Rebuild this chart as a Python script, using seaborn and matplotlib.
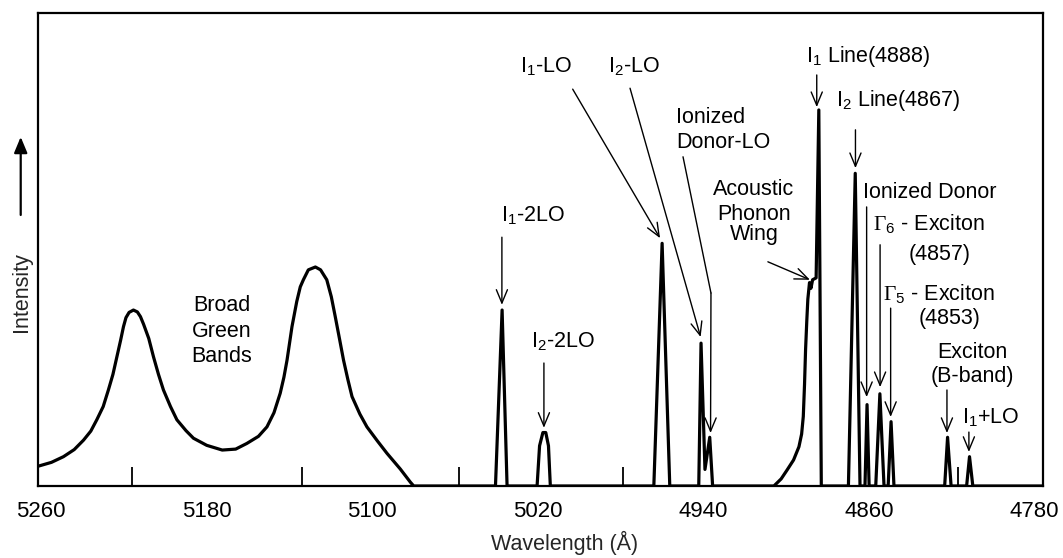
import pandas as pd
import matplotlib
matplotlib.use("Agg")
import matplotlib.pyplot as plt
import seaborn as sns

# ---------------------------------------------------------
# DATA (intensity in arbitrary units)
# ---------------------------------------------------------
# broad green bands
band_wl = [5261.3, 5255.0, 5249.2, 5244.0, 5239.5, 5236.0, 5233.1, 5230.0, 5227.5, 5225.3,
           5223.4, 5221.6, 5220.2, 5219.0, 5217.5, 5215.4, 5213.5, 5212.0, 5210.5, 5208.0,
           5205.7, 5203.3, 5200.9, 5197.5, 5194.4, 5190.0, 5186.4, 5180.0, 5172.5, 5166.0,
           5160.6, 5155.0, 5150.9, 5147.5, 5144.5, 5142.7, 5141.2, 5138.8, 5136.5, 5134.8,
           5133.3, 5130.9, 5127.5, 5125.0, 5122.0, 5119.8, 5117.9, 5115.8, 5113.9, 5111.8,
           5109.8, 5106.0, 5102.6, 5097.5, 5092.9, 5086.5, 5081.6, 5080.0]
band_int = [0.042, 0.050, 0.062, 0.077, 0.097, 0.116, 0.140, 0.168, 0.203, 0.236,
            0.273, 0.308, 0.337, 0.356, 0.367, 0.372, 0.368, 0.358, 0.342, 0.312,
            0.273, 0.236, 0.203, 0.168, 0.140, 0.117, 0.101, 0.086, 0.076, 0.078,
            0.090, 0.105, 0.125, 0.155, 0.196, 0.230, 0.266, 0.337, 0.390, 0.421,
            0.436, 0.457, 0.463, 0.457, 0.436, 0.400, 0.358, 0.310, 0.266, 0.225,
            0.189, 0.152, 0.125, 0.095, 0.069, 0.036, 0.008, 0.0]

# LO phonon replicas (I1-2LO, I2-2LO, I1-LO, I2-LO, ionized donor-LO)
lo_wl = [5040.5, 5037.3, 5034.9,
         5020.4, 5019.2, 5017.6, 5016.2, 5014.9, 5014.0,
         4964.0, 4960.0, 4956.3,
         4942.3, 4941.2, 4939.3, 4937.0, 4935.6]
lo_int = [0.0, 0.372, 0.0,
          0.0, 0.085, 0.113, 0.113, 0.085, 0.0,
          0.0, 0.513, 0.0,
          0.0, 0.302, 0.035, 0.103, 0.0]

# acoustic phonon wing, I1, I2, ionized donor, G6, G5, B-band, I1+LO
edge_wl = [4906.0, 4902.5, 4899.6, 4896.5, 4893.9, 4892.6, 4891.8, 4891.2, 4890.7, 4890.1,
           4889.6, 4888.8, 4888.1, 4887.3, 4885.6, 4884.3, 4883.1,
           4870.0, 4866.7, 4864.4,
           4862.0, 4861.0, 4860.0,
           4856.8, 4854.8, 4852.8,
           4850.8, 4849.4, 4848.0,
           4823.5, 4822.1, 4820.4,
           4812.9, 4811.5, 4809.9,
           4776.0]
edge_int = [0.0, 0.015, 0.034, 0.055, 0.083, 0.110, 0.147, 0.215, 0.288, 0.350,
            0.395, 0.430, 0.418, 0.436, 0.440, 0.795, 0.0,
            0.0, 0.661, 0.0,
            0.0, 0.172, 0.0,
            0.0, 0.195, 0.0,
            0.0, 0.136, 0.0,
            0.0, 0.103, 0.0,
            0.0, 0.062, 0.0,
            0.0]

xticks = [5260, 5180, 5100, 5020, 4940, 4860, 4780]
minor_ticks = [5216, 5134, 5058, 4979, 4817]

df = pd.DataFrame({
    "wl": band_wl + lo_wl + edge_wl,
    "intensity": band_int + lo_int + edge_int,
})

# ---------------------------------------------------------
# STYLE
# ---------------------------------------------------------
sns.set_style("white")
plt.rcParams["font.family"] = ["Liberation Sans", "DejaVu Sans"]
plt.rcParams["mathtext.fontset"] = "custom"
plt.rcParams["mathtext.rm"] = "Liberation Sans"
plt.rcParams["mathtext.it"] = "Liberation Sans:italic"
plt.rcParams["mathtext.bf"] = "Liberation Sans:bold"
plt.rcParams["mathtext.tt"] = "Liberation Serif"

FS = 15.5

fig = plt.figure(figsize=(10.63, 5.58), dpi=100)
ax = fig.add_axes([38 / 1063, 72 / 558, 1005 / 1063, 473 / 558])

sns.lineplot(data=df, x="wl", y="intensity", sort=False, estimator=None,
             color="black", lw=2.3, ax=ax)

ax.set_xlim(5261.5, 4776)
ax.set_ylim(0, 1)
ax.set_xticks(xticks)
ax.set_xticklabels([str(t) for t in xticks])
ax.set_xticks(minor_ticks, minor=True)
ax.set_yticks([])
ax.tick_params(axis="x", which="major", length=0, pad=11, labelsize=16, colors="black")
ax.tick_params(axis="x", which="minor", direction="in", length=14, width=1.3,
               color="black", bottom=True)
for s in ax.spines.values():
    s.set_color("black")
    s.set_linewidth(1.6)

ax.set_xlabel("Wavelength (Å)", fontsize=FS)
ax.xaxis.set_label_coords(0.524, -0.095)
ax.set_ylabel("Intensity", fontsize=FS)
ax.yaxis.set_label_coords(-0.006, 0.41)

# upward arrow next to the intensity label
ax.annotate("", xy=(-0.0172, 0.738), xytext=(-0.0172, 0.573),
            xycoords="axes fraction", textcoords="axes fraction",
            annotation_clip=False,
            arrowprops=dict(arrowstyle="-|>,head_length=0.6,head_width=0.25",
                            lw=1.6, color="black", shrinkA=0, shrinkB=0,
                            mutation_scale=16))


def label(txt, x, y, ha="center"):
    ax.text(x, y, txt, ha=ha, va="baseline", fontsize=FS, color="black")


def arrow(tail, tip, head=True):
    style = "->,head_length=0.6,head_width=0.25" if head else "-"
    ax.annotate("", xy=tip, xytext=tail,
                arrowprops=dict(arrowstyle=style, lw=1.0, color="black",
                                shrinkA=0, shrinkB=0, mutation_scale=16))


# broad bands
label("Broad", 5172.6, 0.370)
label("Green", 5172.6, 0.315)
label("Bands", 5172.6, 0.262)

# LO replicas
label("I$_1$-2LO", 5022.6, 0.560)
arrow((5037.4, 0.526), (5037.4, 0.383))
label("I$_2$-2LO", 5008.1, 0.294)
arrow((5017.1, 0.260), (5017.1, 0.123))
label("I$_1$-LO", 5016.3, 0.875)
arrow((5003.2, 0.839), (4961.0, 0.524))
label("I$_2$-LO", 4973.6, 0.875)
arrow((4975.5, 0.841), (4941.4, 0.315))
label("Ionized", 4953.3, 0.767, ha="left")
label("Donor-LO", 4953.3, 0.715, ha="left")
arrow((4949.9, 0.696), (4936.4, 0.408), head=False)
arrow((4936.4, 0.408), (4936.6, 0.112))

# near band edge
label("Acoustic", 4915.6, 0.615)
label("Phonon", 4915.6, 0.562)
label("Wing", 4915.6, 0.520)
arrow((4908.9, 0.474), (4888.6, 0.436))
label("I$_1$ Line(4888)", 4860.5, 0.896)
arrow((4885.3, 0.869), (4885.3, 0.801))
label("I$_2$ Line(4867)", 4846.0, 0.803)
arrow((4866.6, 0.753), (4866.6, 0.672))
label("Ionized Donor", 4863.0, 0.609, ha="left")
arrow((4861.2, 0.590), (4861.2, 0.188))
label(r"$\mathtt{\Gamma}_6$ - Exciton", 4858.1, 0.541, ha="left")
label("(4857)", 4825.8, 0.478)
arrow((4854.7, 0.510), (4854.7, 0.209))
label(r"$\mathtt{\Gamma}_5$ - Exciton", 4853.3, 0.393, ha="left")
label("(4853)", 4821.0, 0.342)
arrow((4849.6, 0.376), (4849.6, 0.146))
label("Exciton", 4810.3, 0.271)
label("(B-band)", 4810.3, 0.220)
arrow((4822.4, 0.203), (4822.4, 0.112))
label("I$_1$+LO", 4801.1, 0.133)
arrow((4811.8, 0.114), (4811.8, 0.072))

fig.savefig("out.png", dpi=100)
